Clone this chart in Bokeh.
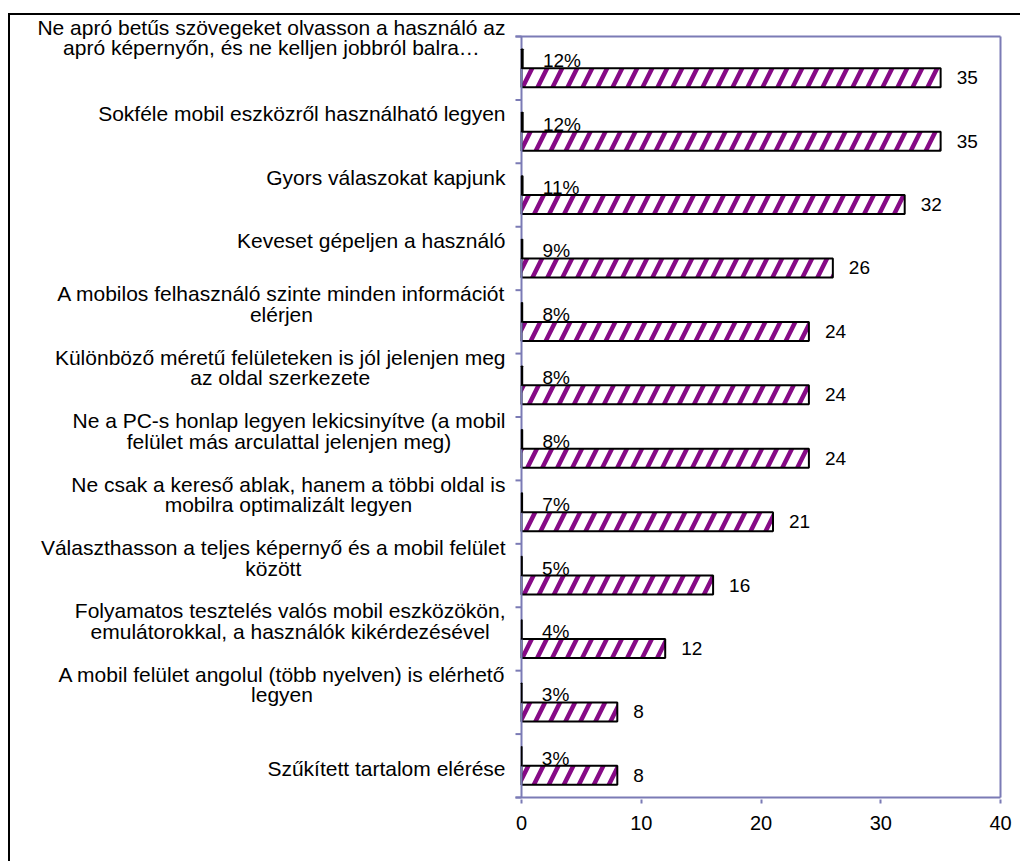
import unicodedata
from bokeh.plotting import figure
from bokeh.models import ColumnDataSource, Range1d, FixedTicker
from bokeh.core.properties import value
from bokeh.embed import file_html
from bokeh.resources import INLINE

categories = [
    "Ne apró betűs szövegeket olvasson a használó az\napró képernyőn, és ne kelljen jobbról balra…",
    "Sokféle mobil eszközről használható legyen",
    "Gyors válaszokat kapjunk",
    "Keveset gépeljen a használó",
    "A mobilos felhasználó szinte minden információt\nelérjen",
    "Különböző méretű felületeken is jól jelenjen meg\naz oldal szerkezete",
    "Ne a PC-s honlap legyen lekicsinyítve (a mobil\nfelület más arculattal jelenjen meg)",
    "Ne csak a kereső ablak, hanem a többi oldal is\nmobilra optimalizált legyen",
    "Választhasson a teljes képernyő és a mobil felület\nközött",
    "Folyamatos tesztelés valós mobil eszközökön,\nemulátorokkal, a használók kikérdezésével",
    "A mobil felület angolul (több nyelven) is elérhető\nlegyen",
    "Szűkített tartalom elérése",
]
counts = [35, 35, 32, 26, 24, 24, 24, 21, 16, 12, 8, 8]
percents = [12, 12, 11, 9, 8, 8, 8, 7, 5, 4, 3, 3]
x_ticks = [0, 10, 20, 30, 40]

AXIS = "#7b7bb5"
HATCH = "#860a86"
FONT = "Liberation Sans"
CAT_SIZE = 21
X_MAX = 40

# layout constants (px, canvas coordinates)
CANVAS_W, CANVAS_H = 1012, 848
AREA_LEFT, AREA_RIGHT = 511, 990      # where 0 and X_MAX fall
AREA_TOP, AREA_BOTTOM = 21, 782       # top / bottom of the bordered plot area
FRAME_RIGHT, FRAME_BOTTOM = 994, 784  # drawing frame edges
TICK = 6
LABEL_GAP = 16

# Arial / Liberation Sans advance widths (per 1000 em)
W = dict(zip("abcdefghijklmnopqrstuvwxyz",
             [556, 556, 500, 556, 556, 278, 556, 556, 222, 222, 500, 222, 833,
              556, 556, 556, 556, 333, 500, 278, 556, 500, 722, 500, 500, 500]))
W.update({"N": 722, "S": 667, "G": 778, "K": 667, "A": 667, "P": 667, "C": 722,
          "V": 667, "F": 611, " ": 278, ",": 278, ".": 278, "(": 333, ")": 333,
          "-": 333, "…": 1000, "í": 278})


def text_width(s, size):
    total = 0
    for ch in s:
        if ch in W:
            total += W[ch]
        else:
            base = unicodedata.normalize("NFD", ch)[0]
            total += W.get(base, 556)
    return total * size / 1000.0


n = len(categories)
idx = list(range(n))
px = (AREA_RIGHT - AREA_LEFT) / X_MAX          # px per x unit
band = (AREA_BOTTOM - AREA_TOP) / n            # px per category

x_lo = -AREA_LEFT / px
x_hi = X_MAX + (FRAME_RIGHT - AREA_RIGHT) / px
y_top = -0.5 - AREA_TOP / band
y_bot = n - 0.5 + (FRAME_BOTTOM - AREA_BOTTOM) / band

p = figure(width=CANVAS_W, height=CANVAS_H, title=None,
           x_range=Range1d(x_lo, x_hi), y_range=Range1d(y_bot, y_top),
           output_backend="svg", toolbar_location=None,
           min_border_left=0, min_border_right=CANVAS_W - FRAME_RIGHT,
           min_border_top=0, min_border_bottom=CANVAS_H - FRAME_BOTTOM)
p.styles = {"border-left": "2px solid black", "border-top": "2px solid black",
            "margin-top": "13px", "margin-left": "8px"}
p.background_fill_color = "white"
p.border_fill_color = "white"
p.outline_line_color = None
p.xgrid.visible = False
p.ygrid.visible = False
p.yaxis.visible = False

# ---- bars ----
src_main = ColumnDataSource(dict(
    y=[i + 0.15 for i in idx], right=counts, label=[str(c) for c in counts]))
src_pct = ColumnDataSource(dict(
    y=[i - 0.15 for i in idx], right=[v / 100 for v in percents],
    label=[f"{v}%" for v in percents]))

p.hbar(y="y", left=0, right="right", height=0.3, source=src_main,
       fill_color="white", hatch_pattern="/", hatch_color=HATCH,
       hatch_weight=4.5, hatch_scale=30, line_color="black", line_width=2)

# ---- plot-area border, category axis line and its ticks ----
tick_x = -TICK / px
y_bounds = [i - 0.5 for i in range(n + 1)]
p.segment(x0=[tick_x, tick_x, 0, X_MAX], y0=[-0.5, n - 0.5, -0.5, -0.5],
          x1=[X_MAX, X_MAX, 0, X_MAX], y1=[-0.5, n - 0.5, n - 0.5, n - 0.5],
          line_color=AXIS, line_width=2)
p.segment(x0=[tick_x] * len(y_bounds), y0=y_bounds,
          x1=[0] * len(y_bounds), y1=y_bounds,
          line_color=AXIS, line_width=2)

p.hbar(y="y", left=0, right="right", height=0.3, source=src_pct,
       fill_color="white", line_color="black", line_width=1.5)

# ---- value labels ----
p.text(x="right", y="y", text="label", source=src_main, x_offset=16,
       text_baseline="middle", text_align="left", text_font=value(FONT),
       text_font_size="19px", text_color="black")
p.text(x="right", y="y", text="label", source=src_pct, x_offset=20, y_offset=2,
       text_baseline="middle", text_align="left", text_font=value(FONT),
       text_font_size="19px", text_color="black")

# ---- value axis ----
p.xaxis.ticker = FixedTicker(ticks=x_ticks)
p.xaxis.axis_line_color = None
p.xaxis.major_tick_line_color = AXIS
p.xaxis.major_tick_line_width = 2
p.xaxis.major_tick_out = TICK - (FRAME_BOTTOM - AREA_BOTTOM)
p.xaxis.major_tick_in = 0
p.xaxis.minor_tick_line_color = None
p.xaxis.major_label_standoff = 12
p.xaxis.major_label_text_font = FONT
p.xaxis.major_label_text_font_size = "20px"
p.xaxis.major_label_text_color = "black"

# ---- category labels: centred lines, block right-aligned left of the axis ----
lab_x, lab_y = [], []
for i, cat in enumerate(categories):
    w = max(text_width(line, CAT_SIZE) for line in cat.split("\n"))
    if i == 0:
        ly = i - 0.485
    elif i == n - 1:
        ly = i + 0.04
    else:
        ly = i - 0.28
    lab_x.append(-(LABEL_GAP + w / 2) / px)
    lab_y.append(ly)
src_lab = ColumnDataSource(dict(x=lab_x, y=lab_y, text=categories))
p.text(x="x", y="y", text="text", source=src_lab, text_align="center",
       text_baseline="middle", text_font=value(FONT),
       text_font_size=f"{CAT_SIZE}px", text_line_height=0.9,
       text_color="black")

open("out.html", "w").write(file_html(p, INLINE))
